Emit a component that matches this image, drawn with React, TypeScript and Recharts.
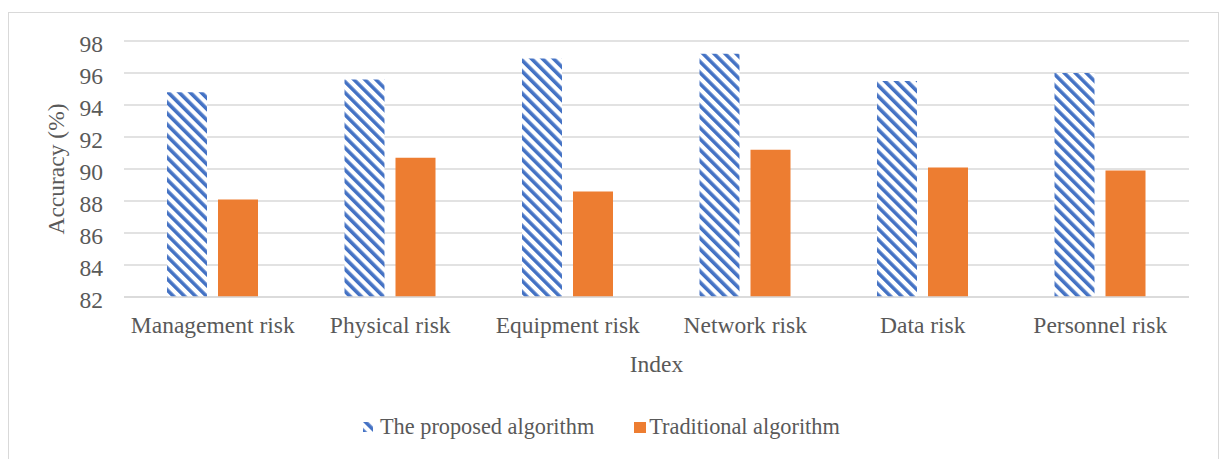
import React from "react";
import { BarChart, Bar, XAxis, YAxis, CartesianGrid, Legend } from "recharts";

const categories = [
  "Management risk",
  "Physical risk",
  "Equipment risk",
  "Network risk",
  "Data risk",
  "Personnel risk",
];
const proposedValues = [94.8, 95.6, 96.9, 97.2, 95.5, 96.0];
const traditionalValues = [88.1, 90.7, 88.6, 91.2, 90.1, 89.9];
const yTicks = [82, 84, 86, 88, 90, 92, 94, 96, 98];
const seriesNames = ["The proposed algorithm", "Traditional algorithm"];

const data = categories.map((name, i) => ({
  name,
  proposed: proposedValues[i],
  traditional: traditionalValues[i],
}));

const BLUE = "#4472C4";
const ORANGE = "#ED7D31";
const TEXT = "#595959";
const GRID = "#D9D9D9";
const FONT = "Liberation Serif";
const FONT_SIZE = 23.5;

// diagonal "\" hatch, like Excel's wide downward diagonal
const Hatch = ({ id }: { id: string }) => (
  <pattern id={id} width={7.8} height={7.8} patternUnits="userSpaceOnUse" patternTransform="rotate(-45)">
    <rect x={0} y={0} width={7.8} height={7.8} fill="#ffffff" />
    <rect x={0} y={0} width={3.6} height={7.8} fill={BLUE} />
  </pattern>
);

const LegendContent = () => (
  <div
    style={{
      display: "flex",
      alignItems: "center",
      fontFamily: FONT,
      fontSize: 22.3,
      color: TEXT,
      whiteSpace: "nowrap",
      lineHeight: 1,
    }}
  >
    <svg width={10} height={10} style={{ marginRight: 7 }}>
      <defs>
        <Hatch id="hatchLegend" />
      </defs>
      <rect width={10} height={10} fill="url(#hatchLegend)" />
    </svg>
    <span>{seriesNames[0]}</span>
    <svg width={12} height={11} style={{ marginLeft: 40, marginRight: 3 }}>
      <rect width={12} height={11} fill={ORANGE} />
    </svg>
    <span>{seriesNames[1]}</span>
  </div>
);

const YTitle = (props: any) => {
  const vb = props.viewBox || {};
  const x = vb.x + 54.5;
  const y = vb.y + vb.height / 2;
  return (
    <text
      x={x}
      y={y}
      transform={`rotate(-90 ${x} ${y})`}
      textAnchor="middle"
      fill={TEXT}
      fontFamily={FONT}
      fontSize={FONT_SIZE}
    >
      Accuracy (%)
    </text>
  );
};

const XTitle = (props: any) => {
  const vb = props.viewBox || {};
  return (
    <text
      x={vb.x + vb.width / 2}
      y={vb.y + 75}
      textAnchor="middle"
      fill={TEXT}
      fontFamily={FONT}
      fontSize={FONT_SIZE}
    >
      Index
    </text>
  );
};

export default function App() {
  return (
    <div
      style={{
        position: "fixed",
        left: 8,
        top: 12,
        width: 1211,
        height: 460,
        border: `1px solid ${GRID}`,
        borderBottom: "none",
        boxSizing: "border-box",
        background: "#fff",
        fontFamily: FONT,
      }}
    >
      <BarChart
        width={1209}
        height={446}
        data={data}
        margin={{ top: 28, right: 29, left: 0, bottom: 132 }}
        barGap={11}
        barSize={40}
        style={{ fontFamily: FONT }}
      >
        <defs>
          <Hatch id="hatchBar" />
        </defs>
        <CartesianGrid vertical={false} stroke={GRID} strokeWidth={1.3} />
        <XAxis
          dataKey="name"
          height={30}
          tickLine={false}
          axisLine={{ stroke: GRID, strokeWidth: 1.3 }}
          tickMargin={13}
          tick={{ fill: TEXT, fontFamily: FONT, fontSize: FONT_SIZE }}
          interval={0}
          label={<XTitle />}
        />
        <YAxis
          width={115}
          domain={[82, 98]}
          ticks={yTicks}
          interval={0}
          tickLine={false}
          axisLine={false}
          tickMargin={15}
          tick={{ fill: TEXT, fontFamily: FONT, fontSize: FONT_SIZE, dy: 3 }}
          label={<YTitle />}
        />
        <Legend
          verticalAlign="middle"
          align="center"
          layout="horizontal"
          content={<LegendContent />}
          wrapperStyle={{ top: 403, left: 354, width: "auto" }}
        />
        <Bar dataKey="proposed" name={seriesNames[0]} fill="url(#hatchBar)" isAnimationActive={false} />
        <Bar dataKey="traditional" name={seriesNames[1]} fill={ORANGE} isAnimationActive={false} />
      </BarChart>
    </div>
  );
}
